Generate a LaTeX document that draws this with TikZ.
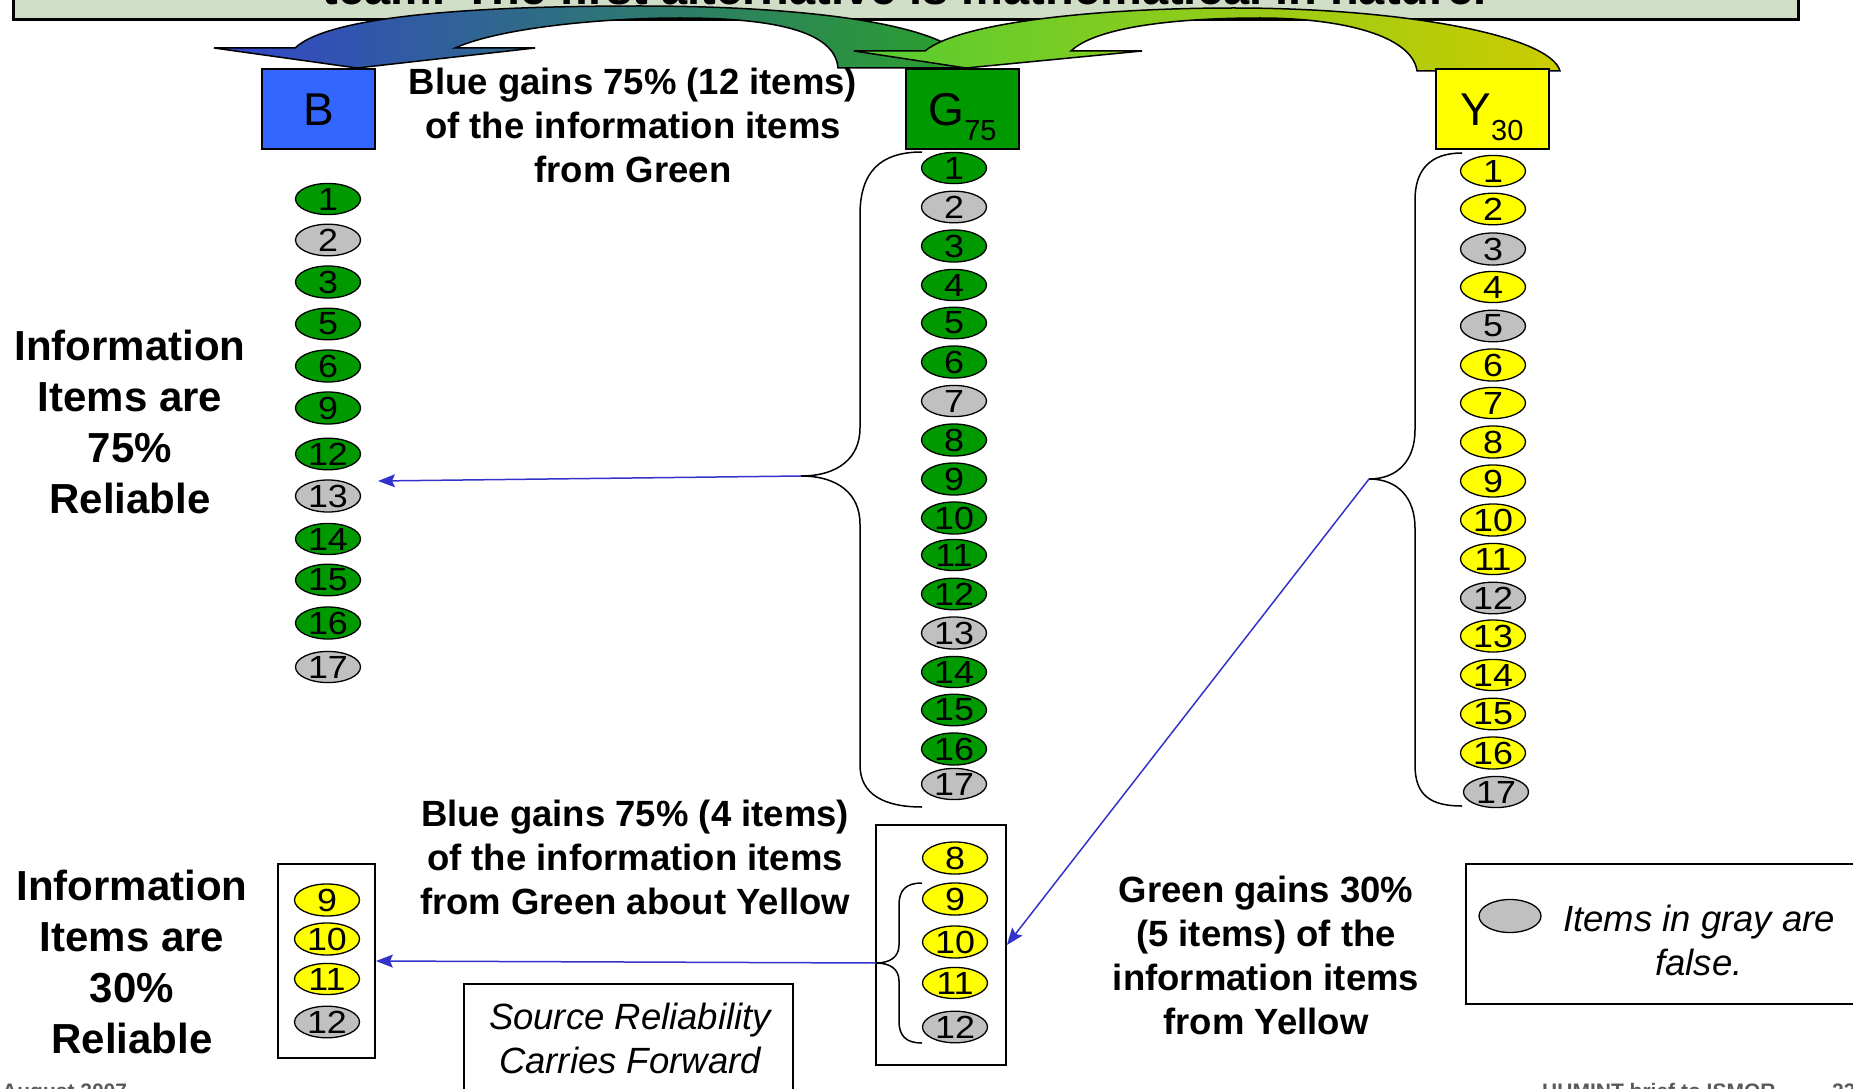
\documentclass[tikz,border=0pt]{standalone}
\usepackage{fontspec}
\setmainfont{Liberation Sans}
\newfontfamily\digitfont[FakeStretch=1.12]{Liberation Sans}
\usetikzlibrary{shapes.geometric,arrows.meta}

\definecolor{bannerfill}{RGB}{208,222,200}
\definecolor{boxblue}{RGB}{51,102,255}
\definecolor{boxgreen}{RGB}{0,153,0}
\definecolor{boxyellow}{RGB}{255,255,0}
\definecolor{itemgray}{RGB}{192,192,192}
\definecolor{linkblue}{RGB}{51,51,204}
\definecolor{arrowblue}{RGB}{51,68,204}
\definecolor{arrowteal}{RGB}{51,136,170}
\definecolor{arrowgreen}{RGB}{42,160,42}
\definecolor{arrowlime}{RGB}{85,204,51}
\definecolor{arrowyg}{RGB}{170,220,40}
\definecolor{arrowolive}{RGB}{204,204,0}
\definecolor{footgray}{RGB}{90,90,90}

\tikzset{
  oval/.style={ellipse, draw=black, line width=1.3pt, minimum width=65pt,
    minimum height=31pt, inner sep=0pt,
    font=\digitfont\fontsize{32}{32}\selectfont},
  srcbox/.style={rectangle, draw=black, line width=2pt, minimum width=113pt,
    minimum height=80pt, inner sep=0pt, text height=33pt, text depth=0pt,
    font=\fontsize{46}{46}\selectfont},
  plainbox/.style={rectangle, draw=black, line width=1.8pt, inner sep=0pt},
  brace/.style={draw=black, line width=1.5pt},
  link/.style={draw=linkblue, line width=1.5pt,
    -{Stealth[length=17pt,width=13pt,inset=3pt]}},
  bigarrow/.style={draw=black, line width=1.5pt, line join=miter},
  note/.style={align=center, font=\fontsize{36.5}{44}\selectfont\bfseries},
  side/.style={align=center, font=\fontsize{42}{51}\selectfont\bfseries},
  ital/.style={align=center, font=\fontsize{36.5}{44}\selectfont\itshape},
  foot/.style={anchor=base west, inner sep=0pt, text=footgray,
    font=\fontsize{21}{21}\selectfont\bfseries},
}

\begin{document}
\begin{tikzpicture}[x=1pt,y=-1pt]
\useasboundingbox (0,0) rectangle (1853,1089);
\clip (0,0) rectangle (1853,1089);

% title banner
\node[plainbox, fill=bannerfill, line width=2.5pt, minimum width=1785pt,
  minimum height=60pt, anchor=south west] (banner) at (12,21) {};
\node[anchor=base, font=\fontsize{47}{47}\selectfont\bfseries] (headline)
  at (905,5) {team.  The first alternative is mathematical in nature.};

% curved block arrow: Green to Blue
\path[bigarrow, left color=arrowblue, middle color=arrowteal, right color=arrowgreen]
  (214,48) -- (295,48)
  .. controls (330,15) and (480,6) .. (640,6)
  .. controls (810,6) and (960,25) .. (970,68)
  -- (838,68)
  .. controls (835,30) and (770,18) .. (680,18)
  .. controls (600,18) and (500,28) .. (455,48)
  -- (535,48) -- (357,68) -- cycle;

% curved block arrow: Yellow to Green
\path[bigarrow, left color=arrowlime, middle color=arrowyg, right color=arrowolive]
  (854,51) -- (925,51)
  .. controls (960,22) and (1100,8) .. (1234,8)
  .. controls (1400,8) and (1550,35) .. (1560,71)
  -- (1417,71)
  .. controls (1412,35) and (1340,18) .. (1260,18)
  .. controls (1170,18) and (1095,28) .. (1071,51)
  -- (1142,51) -- (966,68) -- cycle;

% source boxes
\node[srcbox, fill=boxblue] (B) at (318.5,109) {B};
\node[srcbox, fill=boxgreen] (G) at (962.5,109)
  {G\raisebox{-15pt}{\fontsize{29}{29}\selectfont 75}};
\node[srcbox, fill=boxyellow] (Y) at (1492,109)
  {Y\raisebox{-15pt}{\fontsize{29}{29}\selectfont 30}};

% item columns
\foreach \n/\y/\c in {1/199/boxgreen, 2/240/itemgray, 3/282/boxgreen,
    5/324/boxgreen, 6/366/boxgreen, 9/408/boxgreen, 12/454/boxgreen,
    13/496/itemgray, 14/539/boxgreen, 15/580/boxgreen, 16/623/boxgreen,
    17/667/itemgray}
  \node[oval, fill=\c] (b\n) at (328,\y) {\n};

\foreach \n/\y/\c in {1/168/boxgreen, 2/207/itemgray, 3/246/boxgreen,
    4/285/boxgreen, 5/323/boxgreen, 6/362/boxgreen, 7/401/itemgray,
    8/440/boxgreen, 9/479/boxgreen, 10/518/boxgreen, 11/555/boxgreen,
    12/594/boxgreen, 13/633/itemgray, 14/672/boxgreen, 15/710/boxgreen,
    16/749/boxgreen, 17/784/itemgray}
  \node[oval, fill=\c] (g\n) at (954,\y) {\n};

\foreach \n/\y/\c/\x in {1/171/boxyellow/1493, 2/209/boxyellow/1493,
    3/249/itemgray/1493, 4/287/boxyellow/1493, 5/326/itemgray/1493,
    6/365/boxyellow/1493, 7/403/boxyellow/1493, 8/442/boxyellow/1493,
    9/481/boxyellow/1493, 10/520/boxyellow/1493, 11/559/boxyellow/1493,
    12/598/itemgray/1493, 13/636/boxyellow/1493, 14/675/boxyellow/1493,
    15/714/boxyellow/1493, 16/753/boxyellow/1493, 17/792/itemgray/1496}
  \node[oval, fill=\c] (y\n) at (\x,\y) {\n};

% braces and brace tips
\coordinate (gtip) at (801,476);
\draw[brace] (922,152) .. controls (880,152) and (860,172) .. (860,215)
  -- (860,428) .. controls (860,458) and (838,476) .. (gtip)
  .. controls (838,476) and (860,494) .. (860,524)
  -- (860,765) .. controls (860,795) and (885,807) .. (922,807);

\coordinate (ytip) at (1369,479);
\draw[brace] (1462,153) .. controls (1430,153) and (1415,170) .. (1415,200)
  -- (1415,430) .. controls (1415,460) and (1398,479) .. (ytip)
  .. controls (1398,479) and (1415,498) .. (1415,528)
  -- (1415,765) .. controls (1415,795) and (1430,806) .. (1462,806);

% lower boxes
\node[plainbox, minimum width=97pt, minimum height=194pt] (lowB) at (326.5,961) {};
\node[plainbox, minimum width=130pt, minimum height=240pt] (lowG) at (941,945) {};

\foreach \n/\y/\c in {9/900/boxyellow, 10/939/boxyellow, 11/979/boxyellow,
    12/1022/itemgray}
  \node[oval, fill=\c] (lb\n) at (327,\y) {\n};

\foreach \n/\y/\c in {8/858/boxyellow, 9/899/boxyellow, 10/942/boxyellow,
    11/983/boxyellow, 12/1027/itemgray}
  \node[oval, fill=\c] (lg\n) at (955,\y) {\n};

\coordinate (lgtip) at (876,963);
\draw[brace] (922,883) .. controls (906,883) and (899,890) .. (899,905)
  -- (899,945) .. controls (899,957) and (890,963) .. (lgtip)
  .. controls (890,963) and (899,969) .. (899,981)
  -- (899,1021) .. controls (899,1036) and (906,1043) .. (922,1043);

% transfer arrows
\coordinate (bmid) at (378,481);
\draw[link] (gtip) -- (bmid);
\draw[link] (ytip) -- (lowG.east);
\draw[link] (lgtip) -- (lowB.east);

% explanatory text
\node[note] (gainG) at (633,125)
  {Blue gains 75\% (12 items)\\of the information items\\from Green};
\node[note] (gainY) at (635,857)
  {Blue gains 75\% (4 items)\\of the information items\\from Green about Yellow};
\node[note] (gainGY) at (1266,955)
  {Green gains 30\%\\(5 items) of the\\information items\\from Yellow};
\node[side] (rel75) at (130,422) {Information\\Items are\\75\%\\Reliable};
\node[side] (rel30) at (132,962) {Information\\Items are\\30\%\\Reliable};

% note box
\node[plainbox, minimum width=329pt, minimum height=140pt, anchor=north west]
  (srcnote) at (463,983) {};
\node[ital] (srctext) at (630,1038) {Source Reliability\\Carries Forward};

% legend
\node[plainbox, line width=2pt, minimum width=420pt, minimum height=140pt,
  anchor=north west] (legend) at (1465,863) {};
\node[oval, fill=itemgray, minimum width=62pt, minimum height=33pt] (legoval)
  at (1510,916) {};
\node[ital] (legtext) at (1699,940) {Items in gray are\\false.};

% footer
\node[foot] (date) at (2,1098) {August 2007};
\node[foot] (venue) at (1542,1098) {HUMINT brief to ISMOR};
\node[foot] (page) at (1832,1098) {23};
\end{tikzpicture}
\end{document}
